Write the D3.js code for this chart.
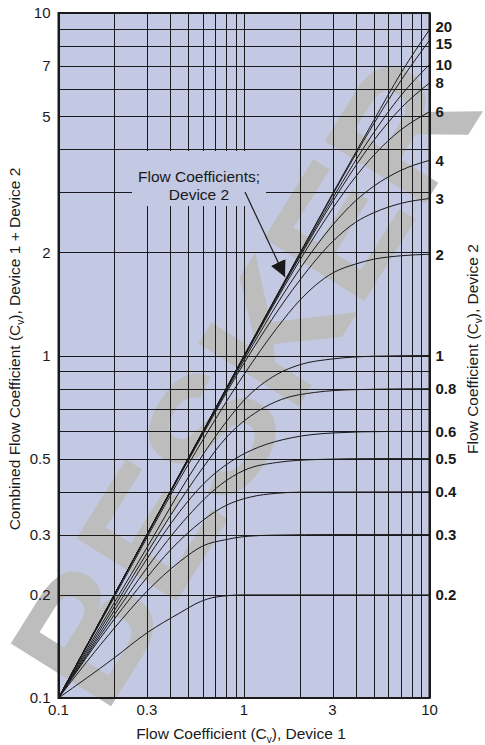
<!DOCTYPE html>
<html>
<head>
<meta charset="utf-8">
<script src="https://cdn.jsdelivr.net/npm/d3@7"></script>
<style>
	body { margin: 0; background: #fff; }
	svg { display: block; font-family: 'Liberation Sans', Arial, sans-serif; }
</style>
</head>
<body>
<div id="chart"></div>
<script>
// x tick labels / y tick labels (log axes)
var xTickVals = [0.1, 0.3, 1, 3, 10]
var yTickVals = [0.1, 0.2, 0.3, 0.5, 1, 2, 5, 7, 10]

var cv_0_2 = [[0.1, 0.1], [0.2, 0.131], [0.3, 0.155], [0.45, 0.177], [0.58, 0.191], [0.7, 0.197], [1, 0.2], [10, 0.2]]
var cv_0_3 = [[0.1, 0.1], [0.2, 0.16], [0.3, 0.205], [0.45, 0.25], [0.6, 0.278], [0.8, 0.29], [1, 0.296], [1.5, 0.299], [3, 0.3], [10, 0.3]]
var cv_0_4 = [[0.1, 0.1], [0.2, 0.17], [0.3, 0.225], [0.4, 0.27], [0.6, 0.33], [0.8, 0.365], [1.08, 0.386], [1.5, 0.396], [2, 0.399], [10, 0.4]]
var cv_0_5 = [[0.1, 0.1], [0.2, 0.175], [0.3, 0.24], [0.5, 0.34], [0.75, 0.42], [1, 0.462], [1.5, 0.487], [2.5, 0.497], [5, 0.5], [10, 0.5]]
var cv_0_6 = [[0.1, 0.1], [0.2, 0.18], [0.3, 0.255], [0.45, 0.35], [0.6, 0.42], [0.9, 0.5], [1.2, 0.54], [1.8, 0.575], [3, 0.594], [6, 0.6], [10, 0.6]]
var cv_0_8 = [[0.1, 0.1], [0.2, 0.185], [0.3, 0.265], [0.4, 0.34], [0.6, 0.47], [0.8, 0.575], [1.2, 0.69], [1.6, 0.745], [2.4, 0.78], [4, 0.795], [10, 0.8]]
var cv_1 = [[0.1, 0.1], [0.2, 0.19], [0.3, 0.275], [0.5, 0.44], [0.75, 0.61], [1, 0.74], [1.5, 0.88], [2, 0.94], [3, 0.977], [5, 0.995], [10, 1]]
var cv_2 = [[0.1, 0.1], [0.2, 0.197], [0.5, 0.48], [1, 0.88], [1.5, 1.2], [2, 1.45], [3, 1.74], [4, 1.85], [5, 1.91], [7, 1.955], [10, 1.975]]
var cv_3 = [[0.1, 0.1], [0.2, 0.2], [0.5, 0.493], [1, 0.949], [2, 1.66], [3, 2.15], [4, 2.45], [5, 2.61], [7, 2.78], [10, 2.873]]
var cv_4 = [[0.1, 0.1], [0.2, 0.2], [0.5, 0.496], [1, 0.97], [2, 1.79], [3, 2.4], [4, 2.83], [5, 3.12], [7, 3.47], [10, 3.714]]
var cv_6 = [[0.1, 0.1], [0.5, 0.498], [1, 0.986], [2, 1.897], [3, 2.683], [4, 3.328], [5, 3.841], [7, 4.556], [10, 5.145]]
var cv_8 = [[0.1, 0.1], [0.5, 0.499], [1, 0.992], [2, 1.94], [3, 2.809], [5, 4.24], [7, 5.268], [10, 6.247]]
var cv_10 = [[0.1, 0.1], [0.5, 0.5], [1, 0.995], [2, 1.961], [3, 2.873], [5, 4.472], [7, 5.735], [10, 7.071]]
var cv_15 = [[0.1, 0.1], [1, 0.998], [2, 1.982], [3, 2.942], [5, 4.743], [7, 6.343], [10, 8.321]]
var cv_20 = [[0.1, 0.1], [1, 0.999], [2, 1.99], [3, 2.967], [5, 4.851], [7, 6.663], [10, 8.944]]

var curveLabels = ['0.2', '0.3', '0.4', '0.5', '0.6', '0.8', '1', '2', '3', '4', '6', '8', '10', '15', '20']
var curvePoints = [cv_0_2, cv_0_3, cv_0_4, cv_0_5, cv_0_6, cv_0_8, cv_1, cv_2, cv_3, cv_4, cv_6, cv_8, cv_10, cv_15, cv_20]

function drawChart() {
	let width = 485
	let height = 745
	var plot = { left: 58.5, right: 429.5, top: 13, bottom: 698 }
	var bg = '#c3c8e3'
	var ink = '#1a1a1a'

	const svg = d3.select('#chart').append('svg')
		.attr('width', width)
		.attr('height', height)

	var x = d3.scaleLog().domain([0.1, 10]).range([plot.left, plot.right])
	var y = d3.scaleLog().domain([0.1, 10]).range([plot.bottom, plot.top])

	// plot background
	svg.append('rect')
		.attr('x', plot.left)
		.attr('y', plot.top)
		.attr('width', plot.right - plot.left)
		.attr('height', plot.bottom - plot.top)
		.attr('fill', bg)

	// watermark, sits under everything else
	svg.append('text')
		.attr('transform', 'translate(105,716) rotate(-58)')
		.attr('font-size', 172)
		.attr('font-weight', 'bold')
		.attr('fill', '#bdbdbd')
		.text('BESKER')

	// grid
	var grid = svg.append('g')
		.attr('stroke', ink)
		.attr('stroke-width', 1)
		.attr('shape-rendering', 'crispEdges')

	grid.selectAll('.vx')
		.data(x.ticks())
		.enter()
		.append('line')
		.attr('x1', d => Math.round(x(d)) + 0.5)
		.attr('x2', d => Math.round(x(d)) + 0.5)
		.attr('y1', plot.top)
		.attr('y2', plot.bottom)

	grid.selectAll('.hy')
		.data(y.ticks())
		.enter()
		.append('line')
		.attr('y1', d => Math.round(y(d)) + 0.5)
		.attr('y2', d => Math.round(y(d)) + 0.5)
		.attr('x1', plot.left)
		.attr('x2', plot.right)

	// gap in the grid behind the callout text
	svg.append('rect')
		.attr('x', 132)
		.attr('y', 151)
		.attr('width', 134)
		.attr('height', 55)
		.attr('fill', bg)

	// curves
	var line = d3.line()
		.x(d => x(d[0]))
		.y(d => y(d[1]))
		.curve(d3.curveMonotoneX)

	svg.append('g')
		.selectAll('path')
		.data(curvePoints)
		.enter()
		.append('path')
		.attr('d', line)
		.attr('fill', 'none')
		.attr('stroke', ink)
		.attr('stroke-width', 1)

	// frame
	svg.append('rect')
		.attr('x', plot.left)
		.attr('y', plot.top)
		.attr('width', plot.right - plot.left)
		.attr('height', plot.bottom - plot.top)
		.attr('fill', 'none')
		.attr('stroke', ink)
		.attr('stroke-width', 2)

	// curve labels on the right, nudged apart where they crowd
	var labs = curvePoints.map((p, i) => ({ text: curveLabels[i], y: y(p[p.length - 1][1]) }))
	for (let k = 0; k < 20; k++) {
		for (let i = 1; i < labs.length; i++) {
			let gap = labs[i - 1].y - labs[i].y
			if (gap < 17) {
				let push = (17 - gap) / 2
				labs[i - 1].y += push
				labs[i].y -= push
			}
		}
	}
	svg.append('g')
		.selectAll('text')
		.data(labs)
		.enter()
		.append('text')
		.attr('x', plot.right + 6)
		.attr('y', d => d.y)
		.attr('dy', '0.36em')
		.attr('font-size', 15)
		.attr('font-weight', 'bold')
		.attr('fill', ink)
		.text(d => d.text)

	// tick labels
	svg.append('g')
		.selectAll('text')
		.data(yTickVals)
		.enter()
		.append('text')
		.attr('x', plot.left - 8)
		.attr('y', d => y(d))
		.attr('dy', '0.36em')
		.attr('text-anchor', 'end')
		.attr('font-size', 15)
		.attr('fill', ink)
		.text(d => d)

	svg.append('g')
		.selectAll('text')
		.data(xTickVals)
		.enter()
		.append('text')
		.attr('x', d => x(d))
		.attr('y', plot.bottom + 17)
		.attr('text-anchor', 'middle')
		.attr('font-size', 15)
		.attr('fill', ink)
		.text(d => d)

	// axis titles with subscript v
	function cvTitle(sel, before, after) {
		sel.append('tspan').text(before + '(C')
		sel.append('tspan').attr('font-size', 10).attr('dy', 4).text('v')
		sel.append('tspan').attr('dy', -4).text(')' + after)
	}

	var xt = svg.append('text')
		.attr('x', 241)
		.attr('y', 739)
		.attr('text-anchor', 'middle')
		.attr('font-size', 15.5)
		.attr('fill', ink)
	cvTitle(xt, 'Flow Coefficient ', ', Device 1')

	var yl = svg.append('text')
		.attr('transform', 'translate(20,349) rotate(-90)')
		.attr('text-anchor', 'middle')
		.attr('font-size', 15.5)
		.attr('fill', ink)
	cvTitle(yl, 'Combined Flow Coefficient ', ', Device 1 + Device 2')

	var yr = svg.append('text')
		.attr('transform', 'translate(478,349) rotate(-90)')
		.attr('text-anchor', 'middle')
		.attr('font-size', 15.5)
		.attr('fill', ink)
	cvTitle(yr, 'Flow Coefficient ', ', Device 2')

	// callout
	var note = svg.append('text')
		.attr('text-anchor', 'middle')
		.attr('font-size', 15.5)
		.attr('fill', ink)
	note.append('tspan').attr('x', 199).attr('y', 182).text('Flow Coefficients;')
	note.append('tspan').attr('x', 199).attr('y', 200).text('Device 2')

	svg.append('defs').append('marker')
		.attr('id', 'head')
		.attr('viewBox', '0 0 10 10')
		.attr('refX', 10)
		.attr('refY', 5)
		.attr('markerWidth', 16)
		.attr('markerHeight', 16)
		.attr('markerUnits', 'userSpaceOnUse')
		.attr('orient', 'auto')
		.append('path')
		.attr('d', 'M0,0 L10,5 L0,10 Z')
		.attr('fill', ink)

	svg.append('line')
		.attr('x1', 245)
		.attr('y1', 192)
		.attr('x2', 285)
		.attr('y2', 277)
		.attr('stroke', ink)
		.attr('stroke-width', 1.2)
		.attr('marker-end', 'url(#head)')
}

drawChart()
</script>
</body>
</html>
